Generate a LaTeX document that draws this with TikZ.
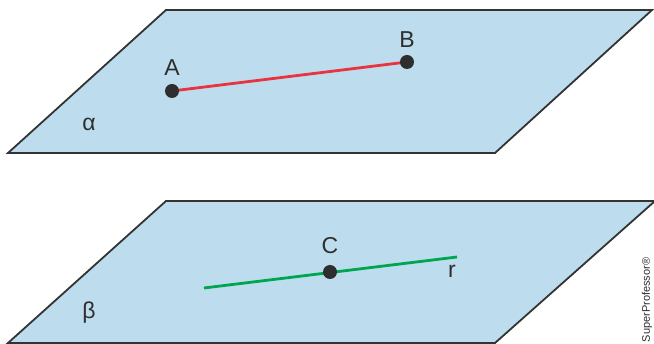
\documentclass[tikz,border=0pt]{standalone}
\usepackage{fontspec}
\setmainfont{Liberation Sans}
\begin{document}
\begin{tikzpicture}[x=1pt,y=-1pt,
  plane/.style={fill=planeblue,draw=edgegray,line width=1.8pt,line join=miter},
  dot/.style={circle,fill=dotgray,inner sep=0pt,minimum size=14pt},
  lbl/.style={font=\fontsize{23}{23}\selectfont,text=dotgray,inner sep=0pt},
  seg/.style={line width=2.8pt}]
\definecolor{planeblue}{HTML}{BDDDEE}
\definecolor{edgegray}{HTML}{333333}
\definecolor{dotgray}{HTML}{2E2E2E}
\definecolor{segred}{HTML}{EA3340}
\definecolor{seggreen}{HTML}{00A550}
\useasboundingbox (0,0) rectangle (654,344);
% planes
\draw[plane] (8,153) -- (166,10) -- (652,10) -- (495,153) -- cycle;
\draw[plane] (8,343) -- (166,201) -- (655,201) -- (495,343) -- cycle;
% alpha plane
\coordinate (A) at (172,91);
\coordinate (B) at (407,62);
\draw[seg,segred] (A) -- (B);
\node[dot] (dA) at (A) {};
\node[dot] (dB) at (B) {};
\node[lbl] (lA) at (172,68) {A};
\node[lbl] (lB) at (407,40) {B};
\node[lbl] (alpha) at (89,124) {α};
% beta plane
\coordinate (r1) at (204,288);
\coordinate (r2) at (457,257);
\draw[seg,seggreen] (r1) -- (r2);
\node[dot] (C) at (330,272) {};
\node[lbl] (lC) at (330,246) {C};
\node[lbl] (lr) at (452,271) {r};
\node[lbl] (beta) at (89,313) {β};
% watermark
\node[rotate=90,font=\fontsize{11}{11}\selectfont,text=dotgray,inner sep=0pt] (wm) at (647,300) {SuperProfessor®};
\end{tikzpicture}
\end{document}
